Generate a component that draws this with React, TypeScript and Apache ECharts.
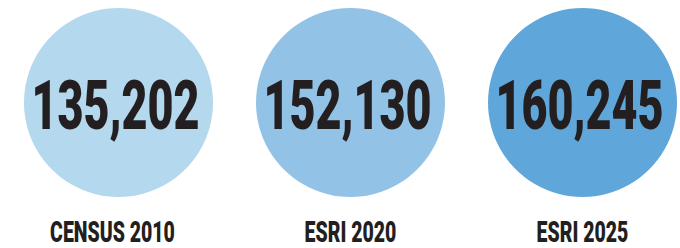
import React, { useEffect, useRef } from "react";
import * as echarts from "echarts";

const categories = ["CENSUS 2010", "ESRI 2020", "ESRI 2025"];
const values = [135202, 152130, 160245];
const colors = ["#b4d8ee", "#92c3e6", "#5fa7da"];

const fmt = (v: number) => v.toLocaleString("en-US");

export default function App() {
  const ref = useRef<HTMLDivElement>(null);
  useEffect(() => {
    if (!ref.current) return;
    const chart = echarts.init(ref.current, undefined, { renderer: "svg" });
    chart.setOption({
      animation: false,
      backgroundColor: "#ffffff",
      grid: { left: 118.5, right: 97.5, top: 7.5, bottom: 50.5 },
      xAxis: {
        type: "category",
        data: categories,
        boundaryGap: false,
        show: false,
      },
      yAxis: { type: "value", min: -1, max: 1, show: false },
      series: [
        {
          type: "custom",
          data: values.map((v, i) => [i, 0, v]),
          renderItem: (params: any, api: any) => {
            const idx = api.value(0);
            const pt = api.coord([idx, 0]);
            const cx = pt[0];
            const cy = pt[1];
            return {
              type: "group",
              children: [
                {
                  type: "circle",
                  shape: { cx, cy, r: 94.5 },
                  style: { fill: colors[params.dataIndex] },
                },
                {
                  type: "text",
                  x: cx - 3,
                  y: cy + 3,
                  scaleX: 0.66,
                  style: {
                    text: fmt(api.value(2)),
                    x: 0,
                    y: 0,
                    align: "center",
                    verticalAlign: "middle",
                    font: "900 68px Roboto",
                    fill: "#231f20",
                  },
                },
                {
                  type: "text",
                  x: params.dataIndex === 0 ? cx - 6 : cx,
                  y: 231.5,
                  scaleX: 0.65,
                  style: {
                    text: categories[params.dataIndex],
                    x: 0,
                    y: 0,
                    align: "center",
                    verticalAlign: "middle",
                    font: "900 30px Roboto",
                    fill: "#231f20",
                  },
                },
              ],
            };
          },
        },
      ],
    });
    return () => chart.dispose();
  }, []);
  return <div ref={ref} style={{ width: 680, height: 248, position: "absolute", left: 0, top: 0 }} />;
}
